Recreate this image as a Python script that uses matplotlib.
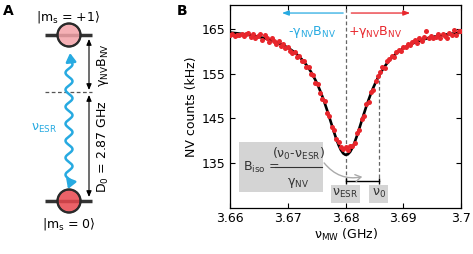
import numpy as np
import matplotlib
matplotlib.use("Agg")
import matplotlib.pyplot as plt
from matplotlib.patches import Rectangle, Circle

# ---- data (panel B) ----
freq_start = 3.6600
freq_step = 0.0004
nv_counts = [163.7, 164.0, 163.5, 163.6, 163.7, 164.0, 163.4, 163.9, 164.1, 163.3,
             163.9, 162.9, 163.5, 163.8, 162.6, 163.6, 162.9, 162.1, 163.0, 162.3,
             161.6, 162.3, 161.2, 161.6, 160.7, 160.9, 160.2, 159.6, 159.9, 158.8,
             158.9, 157.9, 157.8, 156.5, 156.6, 154.9, 154.6, 153.0, 152.8, 150.7,
             149.4, 148.9, 146.3, 145.6, 143.1, 142.4, 140.3, 139.6, 138.6, 138.2,
             138.5, 137.9, 138.7, 138.9, 139.5, 141.6, 142.3, 144.9, 145.6, 148.1,
             148.7, 151.0, 151.4, 153.4, 154.5, 155.3, 156.4, 156.3, 157.8, 158.2,
             158.9, 158.8, 159.9, 160.3, 160.1, 161.0, 160.9, 161.6, 161.4, 162.2,
             162.5, 161.9, 162.9, 162.4, 163.2, 164.6, 162.9, 163.4, 162.9, 163.2,
             163.9, 163.1, 163.8, 163.5, 162.9, 164.2, 163.7, 164.9, 163.6, 164.5,
             164.6]
fit_counts = [164.23, 164.17, 164.11, 164.06, 163.99, 163.92, 163.85, 163.78, 163.69, 163.61,
              163.51, 163.41, 163.31, 163.19, 163.07, 162.94, 162.80, 162.64, 162.48, 162.30,
              162.10, 161.89, 161.66, 161.41, 161.13, 160.83, 160.50, 160.14, 159.74, 159.30,
              158.81, 158.27, 157.67, 157.00, 156.28, 155.46, 154.52, 153.55, 152.45, 151.20,
              149.86, 148.42, 146.87, 145.25, 143.60, 141.95, 140.40, 139.02, 137.91, 137.15,
              136.81, 136.93, 137.48, 138.42, 139.68, 141.15, 142.76, 144.42, 146.07, 147.66,
              149.15, 150.55, 151.83, 152.99, 154.05, 155.01, 155.87, 156.65, 157.35, 157.98,
              158.54, 159.06, 159.52, 159.94, 160.32, 160.67, 160.98, 161.27, 161.54, 161.78,
              162.00, 162.20, 162.39, 162.56, 162.72, 162.87, 163.01, 163.13, 163.25, 163.36,
              163.46, 163.56, 163.65, 163.73, 163.81, 163.89, 163.96, 164.02, 164.08, 164.14,
              164.20]
nu_esr = 3.6800
nu_0 = 3.6858
xticks = [3.66, 3.67, 3.68, 3.69, 3.70]
xticklabels = ["3.66", "3.67", "3.68", "3.69", "3.7"]
yticks = [135, 145, 155, 165]

freqs = freq_start + freq_step * np.arange(len(nv_counts))

RED = "#e8262c"
BLUE = "#27aae1"
GREY_BOX = "#d4d4d4"

plt.rcParams["font.family"] = ["DejaVu Sans"]
plt.rcParams["mathtext.fontset"] = "dejavusans"

fig = plt.figure(figsize=(4.73, 2.54), dpi=100)

# ---- panel A, drawn in pixel coordinates ----
ax0 = fig.add_axes([0, 0, 1, 1])
ax0.set_xlim(0, 473)
ax0.set_ylim(254, 0)
ax0.axis("off")

ax0.text(3, 11, "A", fontsize=10, fontweight="bold", va="center", ha="left")

for yl, fc in [(35, "#f4a3a8"), (201, "#e8474d")]:
    ax0.plot([45, 92], [yl, yl], color="#333333", lw=2.5, solid_capstyle="butt", zorder=2)
    ax0.add_patch(Circle((69, yl), 11.5, facecolor=fc, edgecolor="#2a2a2a", lw=1.5,
                         alpha=0.85, zorder=3))
    ax0.add_patch(Circle((69, yl), 11.5, facecolor="none", edgecolor="#2a2a2a", lw=1.5,
                         zorder=4))
ax0.plot([45, 92], [92, 92], color="#555555", lw=0.9, ls=(0, (3, 2)))

ax0.text(68, 17, r"$\mathregular{|m_s}$ = +1$\mathregular{\rangle}$", fontsize=9,
         ha="center", va="center")
ax0.text(69, 224, r"$\mathregular{|m_s}$ = 0$\mathregular{\rangle}$", fontsize=9,
         ha="center", va="center")

# double arrows
arrow_kw = dict(arrowstyle="<|-|>,head_length=0.35,head_width=0.15", color="black", lw=0.8,
                shrinkA=0, shrinkB=0)
ax0.annotate("", xy=(89, 39), xytext=(89, 90), arrowprops=arrow_kw)
ax0.annotate("", xy=(89, 95), xytext=(89, 197), arrowprops=arrow_kw)
ax0.text(103, 65, r"$\mathregular{γ_{NV}B_{NV}}$", fontsize=9, rotation=90,
         ha="center", va="center")
ax0.text(103, 147, r"$\mathregular{D_0}$ = 2.87 GHz", fontsize=9, rotation=90,
         ha="center", va="center")

# wavy photon
wy = np.linspace(60, 182, 300)
wx = 69 + 3.5 * np.sin((wy - 60) / 17.0 * 2 * np.pi)
ax0.plot(wx, wy, color=BLUE, lw=1.8)
head_kw = dict(arrowstyle="-|>,head_length=0.5,head_width=0.3", color=BLUE, lw=1.8,
               shrinkA=0, shrinkB=0)
ax0.annotate("", xy=(70, 53), xytext=(wx[4], wy[4]), arrowprops=head_kw)
ax0.annotate("", xy=(68, 189), xytext=(wx[-4], wy[-4]), arrowprops=head_kw)
ax0.text(44, 128, r"$\mathregular{ν_{ESR}}$", fontsize=9, color=BLUE, ha="center", va="center")

# ---- panel B ----
ax = fig.add_axes([230 / 473, 46 / 254, 231 / 473, 203 / 254])
ax.plot(freqs, fit_counts, color="black", lw=1.9, zorder=3)
ax.plot(freqs, nv_counts, "o", color=RED, ms=3.6, mec="none", zorder=4)

ax.set_xlim(3.66, 3.70)
ax.set_ylim(124.9, 170.4)
ax.set_xticks(xticks)
ax.set_xticklabels(xticklabels)
ax.set_yticks(yticks)
ax.tick_params(direction="in", length=3.5, width=0.8, labelsize=9, top=True, right=True,
               pad=3)
for s in ax.spines.values():
    s.set_linewidth(0.9)
ax.set_ylabel("NV counts (kHz)", fontsize=9, labelpad=3)
ax.set_xlabel(r"$\mathregular{ν_{MW}}$ (GHz)", fontsize=9, labelpad=1)
fig.text(177 / 473, 1 - 11 / 254, "B", fontsize=10, fontweight="bold", va="center", ha="left")

# dashed markers
ax.plot([nu_esr, nu_esr], [131.0, 170.4], color="#666666", lw=0.9, ls=(0, (3, 2)), zorder=2)
ax.plot([nu_0, nu_0], [155.0, 131.0], color="#666666", lw=0.9, ls=(0, (3, 2)), zorder=2)
ax.plot([nu_esr, nu_0], [131.0, 131.0], color="black", lw=1.0)
ax.plot([nu_esr, nu_0], [131.0, 131.0], "|", color="black", ms=4, mew=1.0)

# top arrows
ax.annotate("", xy=(3.6690, 168.6), xytext=(3.6796, 168.6),
            arrowprops=dict(arrowstyle="-|>,head_length=0.4,head_width=0.15", color=BLUE,
                            lw=0.9, shrinkA=0, shrinkB=0))
ax.annotate("", xy=(3.6912, 168.6), xytext=(3.6810, 168.6),
            arrowprops=dict(arrowstyle="-|>,head_length=0.4,head_width=0.15", color=RED,
                            lw=0.9, shrinkA=0, shrinkB=0))
ax.text(3.6742, 164.3, "-" + r"$\mathregular{γ_{NV}B_{NV}}$", color=BLUE, fontsize=9,
        ha="center", va="center")
ax.text(3.6851, 164.3, "+" + r"$\mathregular{γ_{NV}B_{NV}}$", color=RED, fontsize=9,
        ha="center", va="center")

# formula box
ax.add_patch(Rectangle((3.6616, 128.5), 3.6761 - 3.6616, 139.7 - 128.5, facecolor=GREY_BOX,
                       edgecolor="none", zorder=5))
ax.text(3.6623, 133.9, r"$\mathregular{B_{iso}}$ =", fontsize=9, ha="left", va="center",
        color="#333333", zorder=6)
ax.plot([3.6678, 3.6759], [134.1, 134.1], color="#333333", lw=0.8, zorder=6)
ax.text(3.6718, 137.0, r"$\mathregular{(ν_0\text{-}ν_{ESR})}$", fontsize=9, ha="center",
        va="center", color="#333333", zorder=6)
ax.text(3.6718, 130.6, r"$\mathregular{γ_{NV}}$", fontsize=9, ha="center", va="center",
        color="#333333", zorder=6)

# nu labels
for (x0, x1, xc, lab) in [(3.6775, 3.6825, nu_esr, r"$\mathregular{ν_{ESR}}$"),
                          (3.6841, 3.6874, nu_0, r"$\mathregular{ν_0}$")]:
    ax.add_patch(Rectangle((x0, 126.1), x1 - x0, 4.0, facecolor=GREY_BOX, edgecolor="none",
                           zorder=5))
    ax.text(xc, 128.1, lab, fontsize=9, ha="center", va="center", color="#333333", zorder=6)

ax.annotate("", xy=(3.6829, 131.9), xytext=(3.6763, 135.0),
            arrowprops=dict(arrowstyle="->,head_length=0.4,head_width=0.25", color="#aaaaaa",
                            lw=1.0, connectionstyle="arc3,rad=0.3", shrinkA=0, shrinkB=0),
            zorder=6)

fig.savefig("out.png", dpi=100)
